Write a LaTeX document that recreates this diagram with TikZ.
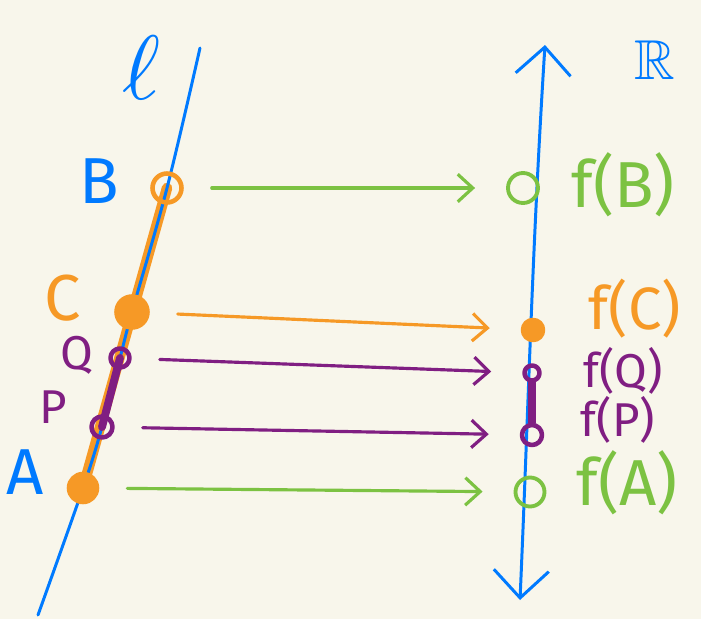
\documentclass[tikz,border=0pt]{standalone}
\usepackage{amssymb}
\usepackage{fontspec}
\setmainfont{Fira Sans}
\usetikzlibrary{arrows.meta}
\definecolor{paper}{RGB}{248,246,235}
\definecolor{penblue}{RGB}{0,122,255}
\definecolor{penorange}{RGB}{246,153,38}
\definecolor{pengreen}{RGB}{124,194,66}
\definecolor{penpurple}{RGB}{128,30,130}
\tikzset{axistip/.tip={Straight Barb[length=0.55cm, width=1.1cm, line width=1.7pt]}}

\begin{document}
\begin{tikzpicture}[x=0.02cm, y=-0.02cm, line cap=round, line join=round,
    pen/.style={line width=1.7pt},
    dot/.style={circle, draw, inner sep=0pt, line width=2.6pt, minimum size=#1},
    lab/.style={inner sep=0pt, font=\fontsize{37}{40}\selectfont},
    smalllab/.style={inner sep=0pt, font=\fontsize{27}{30}\selectfont},
    maparrow/.style={line width=1.8pt, shorten <=0.56cm, shorten >=0.62cm,
        -{Straight Barb[length=0.3cm, width=0.55cm, line width=1.8pt]}}]
    \fill[paper] (0,0) rectangle (701,619);

    % line l on the left
    \coordinate (ltop) at (200,48);
    \coordinate (lbot) at (38,615);
    \draw[penorange, line width=6pt] (83,488) -- (167,188);
    \draw[penblue, pen] plot[smooth, tension=0.6] coordinates
        {(ltop) (167,188) (132,312) (120,358) (102,427) (83,488) (lbot)};
    \draw[penpurple, line width=4.5pt] (102,427) -- (120,358);
    \node[penblue] (lname) at (142,68) {\scalebox{5.2}{$\ell$}};

    % points on l
    \node[dot=0.58cm, penorange] (B) at (167,188) {};
    \node[dot=0.62cm, penorange, fill=penorange] (C) at (132,312) {};
    \node[dot=0.38cm, penpurple] (Q) at (120,358) {};
    \node[dot=0.42cm, penpurple] (P) at (102,427) {};
    \node[dot=0.56cm, penorange, fill=penorange] (A) at (83,488) {};

    \node[lab, penblue] (lblB) at (99,181) {B};
    \node[lab, penorange] (lblC) at (63,298) {C};
    \node[smalllab, penpurple] (lblQ) at (77,355) {Q};
    \node[smalllab, penpurple] (lblP) at (53,407) {P};
    \node[lab, penblue] (lblA) at (25,472) {A};

    % real line on the right
    \coordinate (rtop) at (545,45);
    \coordinate (rbot) at (520,600);
    \draw[penblue, pen, axistip-axistip] (rbot) .. controls (528,420) and (532,250) .. (rtop);
    \node[penblue, font=\fontsize{32}{36}\selectfont] (rname) at (655,60) {$\mathbb{R}$};

    % images
    \node[dot=0.6cm, pengreen, line width=2.2pt] (fB) at (523,188) {};
    \node[dot=0.4cm, penorange, fill=penorange] (fC) at (533,330) {};
    \node[dot=0.3cm, penpurple] (fQ) at (532,373) {};
    \node[dot=0.4cm, penpurple] (fP) at (532,435) {};
    \node[dot=0.58cm, pengreen, line width=2.2pt] (fA) at (530,492) {};
    \draw[penpurple, line width=4.5pt] (fP) -- (fQ);

    \node[lab, pengreen] (lblfB) at (623,185) {f(B)};
    \node[lab, penorange, font=\fontsize{34}{38}\selectfont] (lblfC) at (635,309) {f(C)};
    \node[smalllab, penpurple] (lblfQ) at (623,371) {f(Q)};
    \node[smalllab, penpurple] (lblfP) at (618,420) {f(P)};
    \node[lab, pengreen] (lblfA) at (627,483) {f(A)};

    % the map f
    \draw[maparrow, pengreen] (B) -- (fB);
    \draw[maparrow, penorange] (C) -- (fC);
    \draw[maparrow, penpurple] (Q) -- (fQ);
    \draw[maparrow, penpurple] (P) -- (fP);
    \draw[maparrow, pengreen] (A) -- (fA);
\end{tikzpicture}
\end{document}
